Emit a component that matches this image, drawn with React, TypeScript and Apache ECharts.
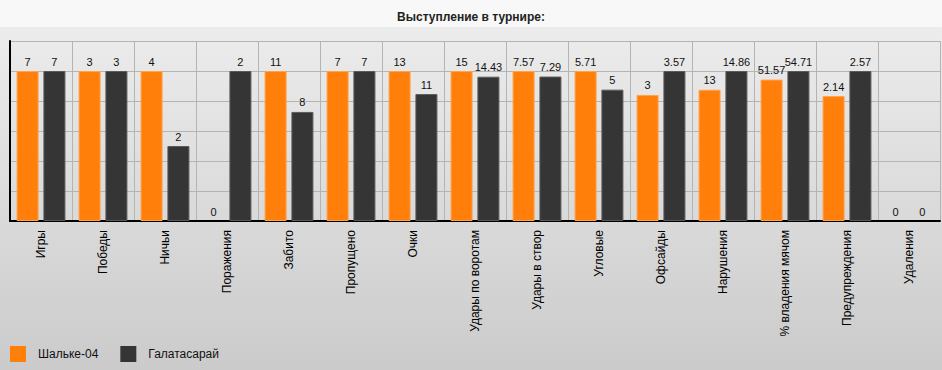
import React, { useEffect, useRef } from "react";
import * as echarts from "echarts";

const categories = [
  "Игры", "Победы", "Ничьи", "Поражения", "Забито", "Пропущено", "Очки",
  "Удары по воротам", "Удары в створ", "Угловые", "Офсайды", "Нарушения",
  "% владения мячом", "Предупреждения", "Удаления",
];
const schalke = [7, 3, 4, 0, 11, 7, 13, 15, 7.57, 5.71, 3, 13, 51.57, 2.14, 0];
const galatasaray = [7, 3, 2, 2, 8, 7, 11, 14.43, 7.29, 5, 3.57, 14.86, 54.71, 2.57, 0];
const seriesNames = ["Шальке-04", "Галатасарай"];
const title = "Выступление в турнире:";

function toShare(values: number[], other: number[]) {
  return values.map((v, i) => {
    const m = Math.max(v, other[i]);
    const item: any = { value: m > 0 ? (v / m) * 100 : 0, raw: v };
    if (v === 0) item.itemStyle = { borderWidth: 0, opacity: 0 };
    return item;
  });
}

export default function App() {
  const ref = useRef<HTMLDivElement>(null);
  useEffect(() => {
    document.body.style.margin = "0";
    const chart = echarts.init(ref.current!, null, { renderer: "svg" });
    const font = "'Liberation Sans', Arial, sans-serif";
    const label = {
      show: true,
      position: "top",
      distance: 4,
      fontSize: 11,
      fontFamily: font,
      color: "#111",
      opacity: 1,
      formatter: (p: any) => String(p.data.raw),
    };
    chart.setOption({
      animation: false,
      graphic: [
        { type: "rect", silent: true, z: -10, shape: { x: 0, y: 0, width: 942, height: 27 }, style: { fill: "#f8f8f8" } },
        {
          type: "rect", silent: true, z: -10, shape: { x: 0, y: 27, width: 942, height: 343 },
          style: {
            fill: new echarts.graphic.LinearGradient(0, 0, 0, 1, [
              { offset: 0, color: "#ececec" },
              { offset: 1, color: "#cbcbcb" },
            ]),
          },
        },
      ],
      title: {
        text: title,
        left: "center",
        top: 6,
        textStyle: { fontSize: 12, fontWeight: "bold", color: "#222", fontFamily: font },
      },
      legend: {
        left: 10,
        top: 346,
        padding: 0,
        itemWidth: 16,
        itemHeight: 16,
        itemGap: 22,
        icon: "rect",
        itemStyle: { borderWidth: 0 },
        textStyle: { fontSize: 12, color: "#111", fontFamily: font, padding: [0, 0, 0, 7] },
        data: seriesNames,
      },
      grid: { left: 10, right: 2, top: 41, height: 180, containLabel: false },
      xAxis: {
        type: "category",
        data: categories,
        axisLine: { lineStyle: { color: "#000", width: 2 } },
        axisTick: { alignWithLabel: true, length: 5, lineStyle: { color: "#000", width: 1 } },
        axisLabel: { rotate: 90, interval: 0, margin: 9, fontSize: 12, color: "#000", fontFamily: font },
        splitLine: { show: true, lineStyle: { color: "#b4b4b4", width: 1 } },
      },
      yAxis: {
        type: "value",
        min: 0,
        max: 120,
        interval: 20,
        axisLine: { show: true, lineStyle: { color: "#000", width: 2 } },
        axisTick: { show: false },
        axisLabel: { show: false },
        splitLine: { show: true, lineStyle: { color: "#b4b4b4", width: 1 } },
      },
      series: [
        {
          name: seriesNames[0],
          type: "bar",
          barWidth: 22,
          barGap: "22%",
          data: toShare(schalke, galatasaray),
          itemStyle: { color: "#ff7f0a", borderColor: "#ffa24a", borderWidth: 1 },
          label,
        },
        {
          name: seriesNames[1],
          type: "bar",
          barWidth: 22,
          data: toShare(galatasaray, schalke),
          itemStyle: { color: "#353535", borderColor: "#5a5a5a", borderWidth: 1 },
          label,
        },
      ],
    });
    return () => chart.dispose();
  }, []);
  return <div ref={ref} style={{ position: "absolute", left: 0, top: 0, width: 942, height: 370 }} />;
}
